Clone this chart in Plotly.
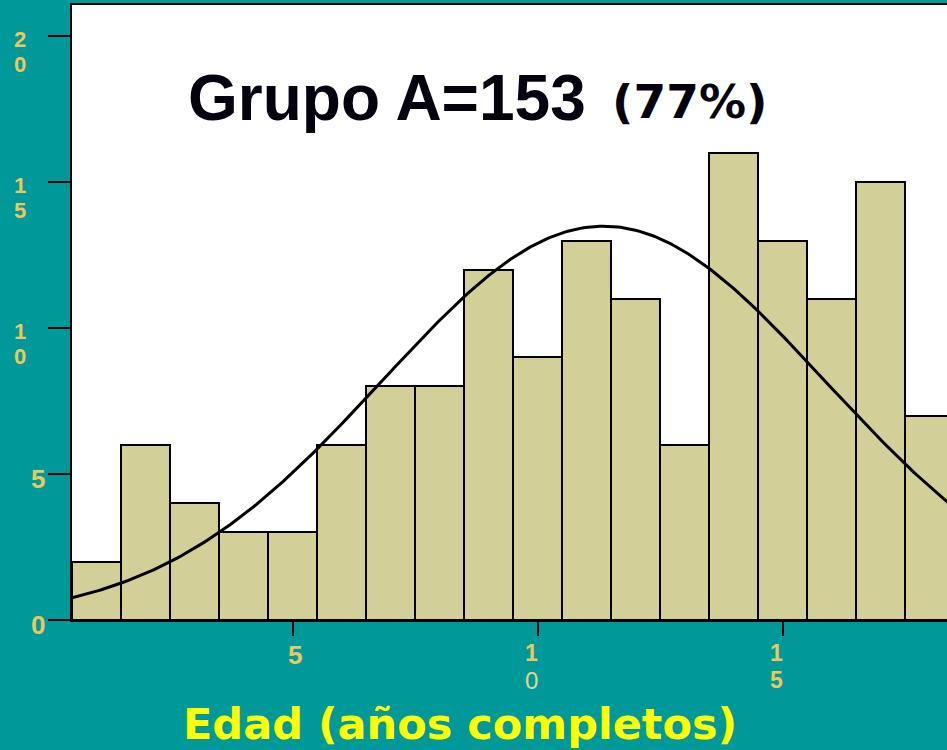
import numpy as np
import plotly.graph_objects as go

# ---- data ----
ages = [1, 2, 3, 4, 5, 6, 7, 8, 9, 10, 11, 12, 13, 14, 15, 16, 17, 18]
counts = [2, 6, 4, 3, 3, 6, 8, 8, 12, 9, 13, 11, 6, 16, 13, 11, 15, 7]
y_tick_vals = [0, 5, 10, 15, 20]
y_tick_text = ["0", "5", "1\n0", "1\n5", "2\n0"]
x_tick_vals = [5, 10, 15]
x_tick_text = ["5", "1\n0", "1\n5"]
title_main = "Grupo A=153"
title_pct = "(77%)"
x_title = "Edad (años completos)"

TEAL = "#009999"
BAR = "#D3CF99"
TICKCOL = "#EEC65C"

# Normal curve fitted to the histogram (mean / sd of the data, scaled to counts)
a = np.array(ages, float)
c = np.array(counts, float)
n = c.sum()
mu = (a * c).sum() / n
sd = np.sqrt(((a - mu) ** 2 * c).sum() / n)
xc = np.linspace(0.5, 18.4, 300)
yc = n / (sd * np.sqrt(2 * np.pi)) * np.exp(-((xc - mu) ** 2) / (2 * sd ** 2))

fig = go.Figure()
fig.add_trace(go.Bar(x=ages, y=counts, width=1,
                     marker=dict(color=BAR, line=dict(color="black", width=2)),
                     hoverinfo="skip"))
fig.add_trace(go.Scatter(x=xc, y=yc, mode="lines",
                         line=dict(color="black", width=3), hoverinfo="skip"))

ann = []
# y tick labels
for v, t in zip(y_tick_vals, y_tick_text):
    parts = t.split("\n")
    if len(parts) == 1:
        ann.append(dict(xref="paper", yref="y", x=0, y=v, xshift=38 - 72, yshift=-5,
                        text="<b>%s</b>" % parts[0], showarrow=False,
                        xanchor="center", yanchor="middle",
                        font=dict(family="Liberation Sans", size=26, color=TICKCOL)))
    else:
        for i, p in enumerate(parts):
            ann.append(dict(xref="paper", yref="y", x=0, y=v, xshift=20 - 72,
                            yshift=-3 - 25 * i,
                            text="<b>%s</b>" % p, showarrow=False,
                            xanchor="center", yanchor="middle",
                            font=dict(family="Liberation Sans", size=22, color=TICKCOL)))
# x tick labels
for v, t in zip(x_tick_vals, x_tick_text):
    parts = t.split("\n")
    if len(parts) == 1:
        ann.append(dict(xref="x", yref="paper", x=v, y=0, xshift=2, yshift=-35,
                        text="<b>%s</b>" % parts[0], showarrow=False,
                        xanchor="center", yanchor="middle",
                        font=dict(family="Liberation Sans", size=26, color=TICKCOL)))
    else:
        for i, p in enumerate(parts):
            if v == 10 and i == 1:
                txt, col, sz = p, "#E9D28A", 24
            else:
                txt, col, sz = "<b>%s</b>" % p, TICKCOL, 23
            ann.append(dict(xref="x", yref="paper", x=v, y=0, xshift=-6,
                            yshift=-33 - 27 * i,
                            text=txt, showarrow=False,
                            xanchor="center", yanchor="middle",
                            font=dict(family="Liberation Sans", size=sz, color=col)))
# title
ann.append(dict(xref="paper", yref="paper", x=(186 - 72) / 875, y=1, yshift=-(98 - 5),
                text="<b>%s</b>" % title_main, showarrow=False,
                xanchor="left", yanchor="middle",
                font=dict(family="Liberation Sans", size=64, color="#050210")))
ann.append(dict(xref="paper", yref="paper", x=(610 - 72) / 875, y=1, yshift=-(101 - 5),
                text="<b>%s</b>" % title_pct, showarrow=False,
                xanchor="left", yanchor="middle",
                font=dict(family="DejaVu Sans", size=47, color="#050210")))
# x axis title
ann.append(dict(xref="paper", yref="paper", x=(460 - 72) / 875, y=0, yshift=-(724 - 620),
                text="<b>%s</b>" % x_title, showarrow=False,
                xanchor="center", yanchor="middle",
                font=dict(family="DejaVu Sans", size=43, color="#FFFF00")))

fig.update_layout(
    width=947, height=750,
    margin=dict(l=72, r=0, t=5, b=130),
    paper_bgcolor=TEAL, plot_bgcolor="white",
    showlegend=False, bargap=0,
    annotations=ann,
    xaxis=dict(range=[0.5, 18.357], tickvals=x_tick_vals, showticklabels=False,
               ticks="outside", ticklen=14, tickwidth=2, tickcolor="black",
               showline=True, linecolor="black", linewidth=2, mirror=True,
               showgrid=False, zeroline=False),
    yaxis=dict(range=[0, 21.07], tickvals=y_tick_vals, showticklabels=False,
               ticks="outside", ticklen=22, tickwidth=2, tickcolor="black",
               showline=True, linecolor="black", linewidth=2, mirror=False,
               showgrid=False, zeroline=False),
)
fig.write_html("out.html", config={"displayModeBar": False},
               post_script="document.body.style.margin='0px';document.body.style.overflow='hidden';")
